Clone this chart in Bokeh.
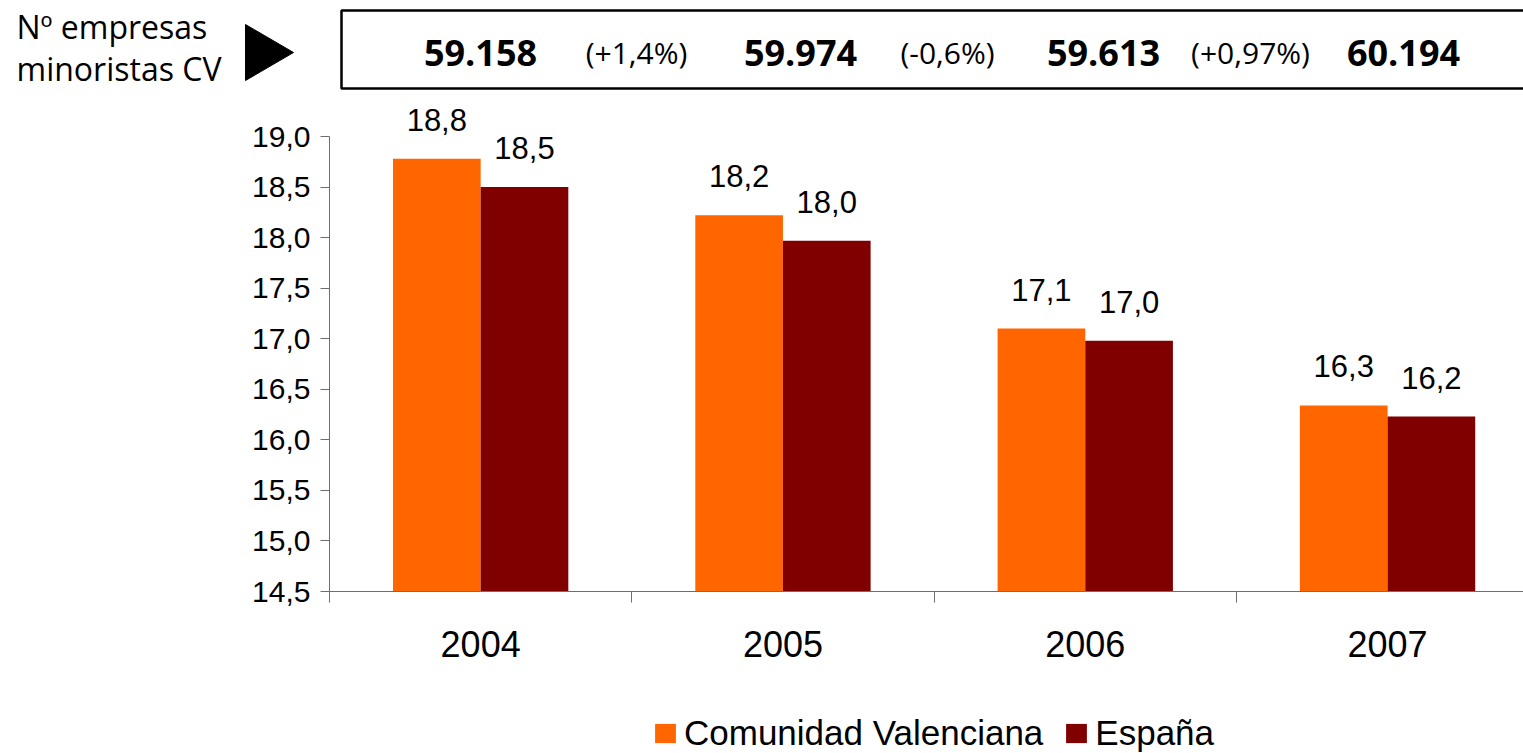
from bokeh.plotting import figure
from bokeh.models import (ColumnDataSource, Range1d, FixedTicker, LabelSet,
                          Legend, LegendItem)
from bokeh.layouts import column
from bokeh.core.properties import value
from bokeh.embed import file_html
from bokeh.resources import INLINE

# ---------------- data ----------------
years = ["2004", "2005", "2006", "2007"]
cv_values = [18.78, 18.22, 17.10, 16.34]
es_values = [18.50, 17.97, 16.98, 16.23]
cv_labels = ["18,8", "18,2", "17,1", "16,3"]
es_labels = ["18,5", "18,0", "17,0", "16,2"]
series_names = ["Comunidad Valenciana", "España"]
y_ticks = [14.5, 15.0, 15.5, 16.0, 16.5, 17.0, 17.5, 18.0, 18.5, 19.0]
y_tick_labels = ["14,5", "15,0", "15,5", "16,0", "16,5", "17,0", "17,5", "18,0", "18,5", "19,0"]
header_title = ["Nº empresas", "minoristas CV"]
header_counts = ["59.158", "59.974", "59.613", "60.194"]
header_changes = ["(+1,4%)", "(-0,6%)", "(+0,97%)"]

# ---------------- layout constants ----------------
W = 1523
HEADER_H = 100
MAIN_H = 590
LEGEND_H = 63
LEFT = 329
FRAME_BOTTOM = 491          # frame bottom, px from top of main figure
TOP_TICK_PX = 36            # px from frame top to the highest tick
CAT_PX = 302.3
BAR_W = 0.29
ORANGE = "#FF6600"
DARK = "#800000"
AXIS_COL = "#6e6e6e"
CHART_FONT = "Liberation Sans"
HEAD_FONT = "Open Sans"
TEXT_SHIFT = 13             # compensation for header text baseline placement

n = len(years)
centers = [i + 0.5 for i in range(n)]
src = ColumnDataSource(dict(
    xcv=[c - BAR_W / 2 for c in centers],
    xes=[c + BAR_W / 2 for c in centers],
    cv=cv_values, es=es_values, lcv=cv_labels, les=es_labels,
))

x_end = (W - LEFT) / CAT_PX
px_per_unit = (FRAME_BOTTOM - TOP_TICK_PX) / (y_ticks[-1] - y_ticks[0])
y_end = y_ticks[-1] + TOP_TICK_PX / px_per_unit

p = figure(width=W, height=MAIN_H, output_backend="svg", toolbar_location=None,
           x_range=Range1d(0, x_end), y_range=Range1d(y_ticks[0], y_end),
           min_border_left=LEFT, min_border_right=0, min_border_top=0,
           min_border_bottom=MAIN_H - FRAME_BOTTOM)
p.frame_align = False
p.outline_line_color = None
p.xgrid.visible = False
p.ygrid.visible = False

r_cv = p.vbar(x="xcv", top="cv", bottom=y_ticks[0], width=BAR_W, source=src,
              fill_color=ORANGE, line_color=None)
r_es = p.vbar(x="xes", top="es", bottom=y_ticks[0], width=BAR_W, source=src,
              fill_color=DARK, line_color=None)

for xcol, ycol, lcol in (("xcv", "cv", "lcv"), ("xes", "es", "les")):
    p.add_layout(LabelSet(x=xcol, y=ycol, text=lcol, source=src, y_offset=28,
                          text_align="center", text_baseline="alphabetic",
                          text_font=value(CHART_FONT), text_font_size="31px",
                          text_color="black"))

xa = p.xaxis[0]
xa.ticker = FixedTicker(ticks=centers, minor_ticks=list(range(n + 1)))
xa.major_label_overrides = {c: y for c, y in zip(centers, years)}
xa.major_tick_out = 0
xa.major_tick_in = 0
xa.minor_tick_out = 11
xa.minor_tick_in = 0
xa.minor_tick_line_color = AXIS_COL
xa.axis_line_color = AXIS_COL
xa.major_label_standoff = 28
xa.major_label_text_font = CHART_FONT
xa.major_label_text_font_size = "36px"
xa.major_label_text_color = "black"

ya = p.yaxis[0]
ya.ticker = FixedTicker(ticks=y_ticks, minor_ticks=[])
ya.bounds = (y_ticks[0], y_ticks[-1])
ya.major_label_overrides = {t: l for t, l in zip(y_ticks, y_tick_labels)}
ya.major_tick_out = 9
ya.major_tick_in = 0
ya.minor_tick_out = 0
ya.minor_tick_in = 0
ya.major_tick_line_color = AXIS_COL
ya.axis_line_color = AXIS_COL
ya.major_label_standoff = 10
ya.major_label_text_font = CHART_FONT
ya.major_label_text_font_size = "30px"
ya.major_label_text_color = "black"

# ---------------- header (y measured downward from the top) ----------------
def hy(v):
    return HEADER_H - v

def ty(v):
    return HEADER_H - (v - TEXT_SHIFT)

h = figure(width=W, height=HEADER_H, output_backend="svg", toolbar_location=None,
           x_range=Range1d(0, W), y_range=Range1d(0, HEADER_H),
           x_axis_location=None, y_axis_location=None,
           min_border_left=0, min_border_right=0, min_border_top=0,
           min_border_bottom=0)
h.frame_align = False
h.outline_line_color = None
h.xgrid.visible = False
h.ygrid.visible = False

h.quad(left=[341], right=[W + 20], top=[hy(10)], bottom=[hy(88)], fill_color="white",
       line_color="black", line_width=2.5)
h.patch(x=[245, 245, 293], y=[hy(24), hy(80), hy(52)], fill_color="black",
        line_color="black")
h.text(x=[16, 16], y=[ty(39), ty(81)], text=header_title, text_font=value(HEAD_FONT),
       text_font_size="32px", text_baseline="alphabetic", text_color="black")

num_x = [480, 800, 1103, 1403]
pct_x = [636, 947, 1250]
h.text(x=num_x, y=[ty(65)] * len(num_x), text=header_counts, text_font=value(HEAD_FONT),
       text_font_style="bold", text_font_size="36px", text_align="center",
       text_baseline="alphabetic", text_color="black")
h.text(x=pct_x, y=[ty(65)] * len(pct_x), text=header_changes, text_font=value(HEAD_FONT),
       text_font_size="30px", text_align="center", text_baseline="alphabetic",
       text_color="black")

# ---------------- legend strip ----------------
lf = figure(width=W, height=LEGEND_H, output_backend="svg", toolbar_location=None,
            x_range=Range1d(0, 1), y_range=Range1d(0, 1),
            x_axis_location=None, y_axis_location=None,
            min_border_left=0, min_border_right=0, min_border_top=0,
            min_border_bottom=0)
lf.frame_align = False
lf.outline_line_color = None
lf.xgrid.visible = False
lf.ygrid.visible = False
# legend proxies, kept outside the visible range
k_cv = lf.vbar(x=[-5], top=[-5], bottom=[-6], width=0.1, fill_color=ORANGE, line_color=None)
k_es = lf.vbar(x=[-5], top=[-5], bottom=[-6], width=0.1, fill_color=DARK, line_color=None)

legend = Legend(items=[LegendItem(label=series_names[0], renderers=[k_cv]),
                       LegendItem(label=series_names[1], renderers=[k_es])],
                location=(652, 0), orientation="horizontal")
legend.padding = 0
legend.margin = 0
legend.spacing = 20
legend.border_line_color = None
legend.background_fill_alpha = 0
legend.glyph_width = 26
legend.glyph_height = 24
legend.label_standoff = 6
legend.label_text_font = CHART_FONT
legend.label_text_font_size = "35px"
legend.label_text_color = "black"
lf.add_layout(legend)

layout = column(h, p, lf, spacing=0)
open("out.html", "w").write(file_html(layout, INLINE))
